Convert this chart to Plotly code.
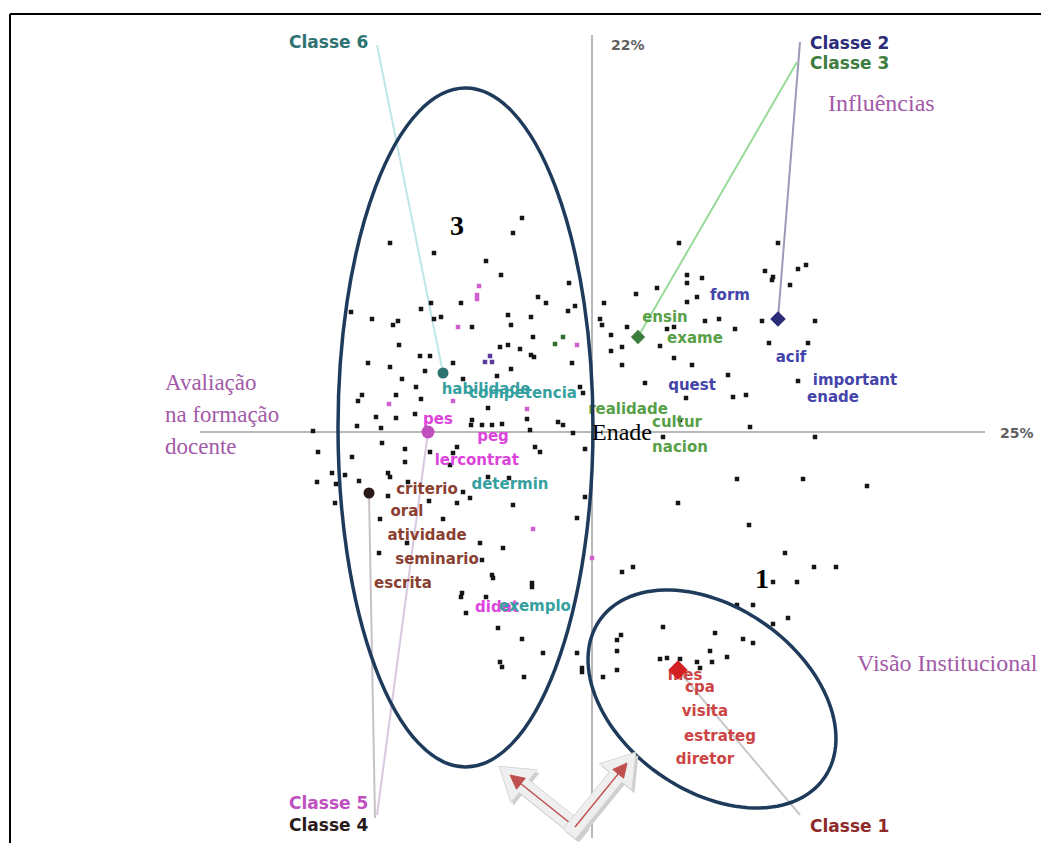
import math
import plotly.graph_objects as go

# ---------------- data (factor coordinates) ----------------
pts_upper_left = [(-0.70,2.14),(-0.79,1.99),(-2.02,1.89),(-1.58,1.79),(-1.06,1.71),(-0.91,1.57),(-0.23,1.49),
    (-0.54,1.35),(-0.46,1.29),(-1.61,1.29),(-1.31,1.29),(-1.71,1.23),(-2.41,1.20),(-0.17,1.26),(-0.24,1.21),
    (-0.84,1.17),(-0.61,1.15),(-1.58,1.13),(-1.51,1.15),(-2.20,1.13),(-1.94,1.11),(-1.99,1.07),(-1.20,1.05),
    (-0.81,1.07),(-0.59,0.95),(-1.93,0.87),(-0.84,0.87),(-0.92,0.85),(-0.72,0.83),(-0.61,0.77),(-0.58,0.75),
    (-1.72,0.76),(-1.62,0.76),(-2.24,0.69),(-1.39,0.69),(-0.20,0.69),(-2.02,0.65),(-0.81,0.63),(-1.67,0.61),
    (-1.29,0.53),(-1.90,0.53),(-0.95,0.56),(-1.76,0.45),(-2.30,0.37),(-2.34,0.31),(-1.96,0.37),(-0.12,0.45),
    (-0.09,0.39),(-1.71,0.33),(-1.04,0.24),(-1.77,0.18),(-2.16,0.15),(-1.96,0.14),(-1.20,0.12),(-0.65,0.13),
    (-0.34,0.10),(-0.29,0.07),(-2.35,0.06),(-2.11,0.04),(-1.00,0.07),(-0.90,0.08),(-0.62,0.02),(-2.79,0.01),
    (-0.19,-0.01),(-1.21,0.07),(-1.10,0.07)]
pts_lower_left = [(-2.10,-0.11),(-1.87,-0.17),(-1.87,-0.30),(-2.40,-0.25),(-2.74,-0.20),(-1.62,-0.20),
    (-1.35,-0.15),(-1.39,-0.21),(-0.57,-0.15),(-0.52,-0.20),(-0.07,-0.17),(-1.42,-0.33),(-2.60,-0.41),
    (-2.47,-0.43),(-2.75,-0.50),(-2.56,-0.52),(-2.33,-0.49),(-2.04,-0.41),(-2.02,-0.45),(-1.84,-0.50),
    (-1.04,-0.45),(-0.83,-0.46),(-2.04,-0.64),(-2.57,-0.71),(-1.63,-0.69),(-1.35,-0.71),(-1.29,-0.60),
    (-1.22,-0.66),(-0.79,-0.73),(-0.07,-0.65),(-2.12,-0.87),(-1.49,-0.87),(-0.15,-0.86),(-1.85,-1.11),
    (-1.12,-1.11),(-0.89,-1.16),(-2.13,-1.21),(-1.10,-1.28),(-1.00,-1.43),(-0.99,-1.46),(-0.60,-1.51),
    (-0.60,-1.55),(-1.30,-1.61),(-1.31,-1.65),(-1.06,-1.65),(-1.26,-1.81),(-0.94,-1.96),(-0.70,-2.07),
    (-0.49,-2.21),(-0.15,-2.21),(-0.92,-2.30),(-0.90,-2.35),(-0.68,-2.45),(-0.10,-2.36),(-0.10,-2.40),
    (0.11,-2.45)]
pts_upper_right = [(0.87,1.89),(1.86,1.89),(0.95,1.57),(0.95,1.49),(1.10,1.54),(0.65,1.44),(0.44,1.38),
    (1.05,1.35),(0.95,1.30),(0.12,1.29),(1.73,1.61),(1.81,1.55),(1.80,1.52),(2.06,1.63),(2.14,1.67),
    (1.98,1.47),(0.08,1.13),(0.10,1.07),(0.35,1.05),(1.13,1.11),(1.27,1.13),(1.43,1.03),(0.75,1.03),
    (0.82,1.05),(1.70,1.11),(2.23,1.11),(0.19,0.97),(0.30,0.85),(0.19,0.81),(0.68,0.86),(1.77,0.89),
    (2.16,0.89),(0.82,0.74),(1.00,0.67),(0.30,0.67),(1.36,0.57),(0.53,0.49),(2.06,0.51),(0.94,0.34),
    (1.41,0.35),(1.54,0.37),(1.58,0.05),(0.88,0.12),(0.71,-0.05),(2.23,-0.05)]
pts_lower_right = [(1.45,-0.47),(2.11,-0.47),(2.75,-0.54),(0.86,-0.71),(1.57,-0.93),(1.93,-1.21),
    (0.30,-1.40),(0.41,-1.35),(2.22,-1.35),(2.44,-1.35),(1.81,-1.50),(2.05,-1.50),(1.45,-1.73),(1.61,-1.73),
    (1.81,-1.92),(1.96,-1.86),(0.71,-1.95),(1.23,-2.01),(0.29,-2.03),(0.25,-2.08),(0.25,-2.19),(1.18,-2.19),
    (1.51,-2.07),(1.61,-2.11),(0.68,-2.27),(0.75,-2.26),(0.88,-2.27),(1.05,-2.30),(1.20,-2.30),(1.35,-2.25),
    (1.08,-2.36),(0.25,-2.38)]
pts_magenta = [(-1.34,1.05),(-0.15,0.87),(-1.39,0.31),(-2.03,0.28),(-0.65,0.23),(-0.59,-0.97),(0.00,-1.26),
    (-1.13,1.46),(-1.15,1.37),(-1.15,1.33)]
pts_purple = [(-1.02,0.76),(-1.07,0.70),(-1.00,0.70)]
pts_green = [(-0.29,0.95),(-0.37,0.88)]

classes = ["Classe 1", "Classe 2", "Classe 3", "Classe 4", "Classe 5", "Classe 6"]
centroid_x = [0.86, 1.86, 0.46, -2.23, -1.64, -1.49]
centroid_y = [-2.38, 1.13, 0.95, -0.61, 0.00, 0.59]

words_c1 = ["mes", "cpa", "visita", "estrateg", "diretor"]
wx_c1 = [0.93, 1.08, 1.13, 1.28, 1.13]
wy_c1 = [-2.44, -2.56, -2.80, -3.05, -3.28]
words_c2 = ["form", "acif", "quest", "important", "enade"]
wx_c2 = [1.38, 1.99, 1.00, 2.63, 2.41]
wy_c2 = [1.36, 0.74, 0.46, 0.51, 0.34]
words_c3 = ["ensin", "exame", "realidade", "cultur", "nacion"]
wx_c3 = [0.73, 1.03, 0.36, 0.85, 0.88]
wy_c3 = [1.14, 0.93, 0.22, 0.09, -0.16]
words_c4 = ["criterio", "oral", "atividade", "seminario", "escrita"]
wx_c4 = [-1.65, -1.85, -1.65, -1.55, -1.89]
wy_c4 = [-0.58, -0.80, -1.04, -1.28, -1.52]
words_c5 = ["pes", "peg", "ler", "contrat", "didat"]
wx_c5 = [-1.54, -0.99, -1.46, -1.04, -0.95]
wy_c5 = [0.12, -0.05, -0.29, -0.29, -1.76]
words_c6 = ["habilidade", "competencia", "determin", "exemplo"]
wx_c6 = [-1.06, -0.69, -0.82, -0.57]
wy_c6 = [0.42, 0.38, -0.53, -1.75]

axis_pct_x = "25%"
axis_pct_y = "22%"

# ---------------- styling ----------------
# page body has an 8px margin, so the figure is sized/ranged to compensate
X0, X1 = -5.84, 4.57
Y0, Y1 = -4.11, 4.24
SANS = "DejaVu Sans, Verdana, sans-serif"
SERIF = "Liberation Serif, Times New Roman, serif"
PURPLE = "#a35aa8"
NAVY = "#1f3b5c"

label_col = ["#8e2a2a", "#2b2b7a", "#3d7d3d", "#2a1a1a", "#c050c0", "#2e7272"]
word_col = ["#cc4444", "#4444aa", "#58a048", "#8a4030", "#dc44dc", "#36a0a0"]
link_col = ["#c8c8c8", "#9a9ab8", "#98da98", "#c8c0c8", "#d8c8e0", "#bfe6e6"]
cent_sym = ["diamond", "diamond", "diamond", "circle", "circle", "circle"]
cent_size = [15, 12, 11, 11, 13, 11]
label_pos = [(2.16, -3.94, "left"), (2.16, 3.89, "left"), (2.16, 3.69, "left"),
             (-2.22, -3.93, "right"), (-2.22, -3.71, "right"), (-2.22, 3.90, "right")]
link_start = [(2.08, -3.83), (2.08, 3.90), (2.05, 3.70), (-2.17, -3.86), (-2.15, -3.83), (-2.15, 3.87)]

fig = go.Figure()
shapes = []

# frame (top & left border)
shapes.append(dict(type="line", x0=-5.82, x1=X1, y0=4.18, y1=4.18, line=dict(color="black", width=2)))
shapes.append(dict(type="line", x0=-5.82, x1=-5.82, y0=4.18, y1=Y0, line=dict(color="black", width=2)))
# factor axes
shapes.append(dict(type="line", x0=-3.92, x1=3.93, y0=0, y1=0, line=dict(color="#b8b8b8", width=2), layer="below"))
shapes.append(dict(type="line", x0=0, x1=0, y0=3.97, y1=-4.06, line=dict(color="#b8b8b8", width=2), layer="below"))
# connectors from class labels to centroids
for i in range(6):
    sx, sy = link_start[i]
    shapes.append(dict(type="line", x0=sx, y0=sy, x1=centroid_x[i], y1=centroid_y[i],
                       line=dict(color=link_col[i], width=2), layer="below"))

# big ellipse (group 3)
shapes.append(dict(type="circle", x0=-2.54, x1=0.01, y0=-3.35, y1=3.44,
                   line=dict(color=NAVY, width=3.5), layer="above"))
# tilted ellipse (group 1)
cx, cy, a, b, phi = 1.20, -2.67, 1.372, 0.918, math.radians(-35.2)
pts = []
for k in range(121):
    t = 2 * math.pi * k / 120
    ex = cx + a * math.cos(t) * math.cos(phi) - b * math.sin(t) * math.sin(phi)
    ey = cy + a * math.cos(t) * math.sin(phi) + b * math.sin(t) * math.cos(phi)
    pts.append((ex, ey))
path = "M " + " L ".join(f"{p[0]:.4f},{p[1]:.4f}" for p in pts) + " Z"
shapes.append(dict(type="path", path=path, line=dict(color=NAVY, width=3.5), layer="above"))

# double arrow (decoration)
V = (-0.17, -3.95)
tips = [(-0.82, -3.43), (0.35, -3.31)]

def poly(points):
    return "M " + " L ".join(f"{p[0]:.4f},{p[1]:.4f}" for p in points) + " Z"

for T in tips:
    dx, dy = T[0] - V[0], T[1] - V[1]
    L = math.hypot(dx, dy)
    ux, uy = dx / L, dy / L
    nx, ny = -uy, ux
    s = (V[0] - ux * 0.09, V[1] - uy * 0.09)
    tip = (T[0] + ux * 0.14, T[1] + uy * 0.14)
    h = (tip[0] - ux * 0.32, tip[1] - uy * 0.32)
    bw, hw = 0.08, 0.21
    g = [(s[0] + nx * bw, s[1] + ny * bw), (h[0] + nx * bw, h[1] + ny * bw), (h[0] + nx * hw, h[1] + ny * hw),
         tip, (h[0] - nx * hw, h[1] - ny * hw), (h[0] - nx * bw, h[1] - ny * bw), (s[0] - nx * bw, s[1] - ny * bw)]
    sh = [(p[0] + 0.025, p[1] - 0.03) for p in g]
    shapes.append(dict(type="path", path=poly(sh), fillcolor="#cfcfcf", line=dict(width=0), layer="above"))
    shapes.append(dict(type="path", path=poly(g), fillcolor="#efefef", line=dict(color="#d6d6d6", width=1), layer="above"))
    rh = (T[0] - ux * 0.14, T[1] - uy * 0.14)
    shapes.append(dict(type="line", x0=V[0], y0=V[1], x1=rh[0], y1=rh[1], line=dict(color="#c0504d", width=1.5), layer="above"))
    head = [T, (rh[0] + nx * 0.07, rh[1] + ny * 0.07), (rh[0] - nx * 0.07, rh[1] - ny * 0.07)]
    shapes.append(dict(type="path", path=poly(head), fillcolor="#c0504d", line=dict(color="#c0504d", width=1), layer="above"))

# black word points
allpts = pts_upper_left + pts_lower_left + pts_upper_right + pts_lower_right
fig.add_trace(go.Scatter(x=[p[0] for p in allpts], y=[p[1] for p in allpts], mode="markers",
                         marker=dict(symbol="square", size=4.5, color="#151515"), hoverinfo="skip"))
for grp, col in ((pts_magenta, "#d060d0"), (pts_purple, "#5a3a9a"), (pts_green, "#2e6e2e")):
    fig.add_trace(go.Scatter(x=[p[0] for p in grp], y=[p[1] for p in grp], mode="markers",
                             marker=dict(symbol="square", size=4.5, color=col), hoverinfo="skip"))

# word labels
for i, (w, wx, wy) in enumerate([(words_c1, wx_c1, wy_c1), (words_c2, wx_c2, wy_c2), (words_c3, wx_c3, wy_c3),
                                 (words_c4, wx_c4, wy_c4), (words_c5, wx_c5, wy_c5), (words_c6, wx_c6, wy_c6)]):
    fig.add_trace(go.Scatter(x=wx, y=wy, mode="text", text=[f"<b>{t}</b>" for t in w], textposition="middle center",
                             textfont=dict(family=SANS, size=15, color=word_col[i]), hoverinfo="skip"))

# class centroids
for i in range(6):
    fig.add_trace(go.Scatter(x=[centroid_x[i]], y=[centroid_y[i]], mode="markers",
                             marker=dict(symbol=cent_sym[i], size=cent_size[i], color=label_col[i] if i != 0 else "#d42020"),
                             hoverinfo="skip"))

annotations = []
for i in range(6):
    lx, ly, anc = label_pos[i]
    annotations.append(dict(x=lx, y=ly, text=f"<b>{classes[i]}</b>", showarrow=False, xanchor=anc, yanchor="middle",
                            font=dict(family=SANS, size=17, color=label_col[i])))
annotations += [
    dict(x=0.36, y=3.87, text=f"<b>{axis_pct_y}</b>", showarrow=False, font=dict(family=SANS, size=14, color="#606060")),
    dict(x=4.25, y=-0.01, text=f"<b>{axis_pct_x}</b>", showarrow=False, font=dict(family=SANS, size=14, color="#606060")),
    dict(x=2.89, y=3.29, text="Influências", showarrow=False, font=dict(family=SERIF, size=24, color=PURPLE)),
    dict(x=-4.29, y=0.50, text="Avaliação", showarrow=False, xanchor="left", font=dict(family=SERIF, size=23, color=PURPLE)),
    dict(x=-4.29, y=0.18, text="na formação", showarrow=False, xanchor="left", font=dict(family=SERIF, size=23, color=PURPLE)),
    dict(x=-4.29, y=-0.14, text="docente", showarrow=False, xanchor="left", font=dict(family=SERIF, size=23, color=PURPLE)),
    dict(x=3.55, y=-2.31, text="Visão Institucional", showarrow=False, font=dict(family=SERIF, size=24, color=PURPLE)),
    dict(x=-0.02, y=0.0, text="Enade", showarrow=False, xanchor="left", font=dict(family=SERIF, size=24, color="black")),
    dict(x=-1.35, y=2.07, text="<b>3</b>", showarrow=False, font=dict(family=SERIF, size=28, color="black")),
    dict(x=1.70, y=-1.46, text="<b>1</b>", showarrow=False, font=dict(family=SERIF, size=28, color="black")),
]

fig.update_layout(
    width=1041, height=835, margin=dict(l=0, r=0, t=0, b=0),
    paper_bgcolor="white", plot_bgcolor="white", showlegend=False,
    xaxis=dict(range=[X0, X1], visible=False, fixedrange=True),
    yaxis=dict(range=[Y0, Y1], visible=False, fixedrange=True),
    shapes=shapes, annotations=annotations,
)
fig.write_html("out.html")
